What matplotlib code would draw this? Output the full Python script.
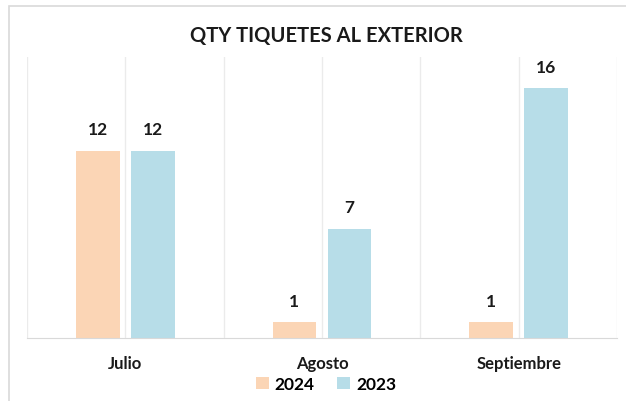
import numpy as np
import matplotlib.pyplot as plt
from matplotlib.patches import Rectangle

# data
months = ['Julio', 'Agosto', 'Septiembre']
qty_2024 = [12, 1, 1]
qty_2023 = [12, 7, 16]

c2024 = '#FBD5B5'
c2023 = '#B7DDE8'

plt.rcParams['font.family'] = ['Lato', 'DejaVu Sans']

fig = plt.figure(figsize=(6.26, 4.02), dpi=100)
# outer chart border (cropped at right and bottom like the screenshot)
fig.patches.append(Rectangle((8.5 / 626, -0.1), 1.2, (402 - 6.5) / 402 + 0.1,
                             transform=fig.transFigure, fill=False,
                             edgecolor='#D9D9D9', linewidth=1.2))

ax = fig.add_axes([27 / 626, 63 / 402, 590 / 626, 281 / 402])

x = np.arange(len(months))
w = 0.223
b1 = ax.bar(x - 0.14, qty_2024, w, color=c2024, label='2024', zorder=2)
b2 = ax.bar(x + 0.14, qty_2023, w, color=c2023, label='2023', zorder=2)

for bars in (b1, b2):
    for r in bars:
        ax.text(r.get_x() + r.get_width() / 2, r.get_height() + 0.85, f'{int(r.get_height())}',
                ha='center', va='bottom', fontsize=12.5, fontweight='bold', color='#1a1a1a')

ax.set_xlim(-0.5, 2.5)
ax.set_ylim(0, 18)
for gx in np.arange(-0.5, 2.6, 0.5):
    ax.axvline(gx, color='#EBEBEB', linewidth=1, zorder=0)

ax.set_yticks([])
ax.set_xticks(x)
ax.set_xticklabels(months, fontsize=12, fontweight='bold', color='#1a1a1a')
ax.tick_params(axis='x', length=0, pad=12)
for s in ['top', 'left', 'right']:
    ax.spines[s].set_visible(False)
ax.spines['bottom'].set_color('#D9D9D9')
ax.spines['bottom'].set_zorder(3)

fig.suptitle('QTY TIQUETES AL EXTERIOR', x=326 / 626, y=(402 - 36) / 402, va='center',
             fontsize=14.5, fontweight='bold', color='#1a1a1a')

fig.legend(handles=[b1, b2], labels=['2024', '2023'], loc='center', ncol=2,
           bbox_to_anchor=(326 / 626, (402 - 385) / 402), frameon=False,
           handlelength=0.75, handleheight=0.75, handletextpad=0.35, columnspacing=1.3,
           prop={'size': 12.5, 'weight': 'bold'})

fig.savefig('out.png', dpi=100)
